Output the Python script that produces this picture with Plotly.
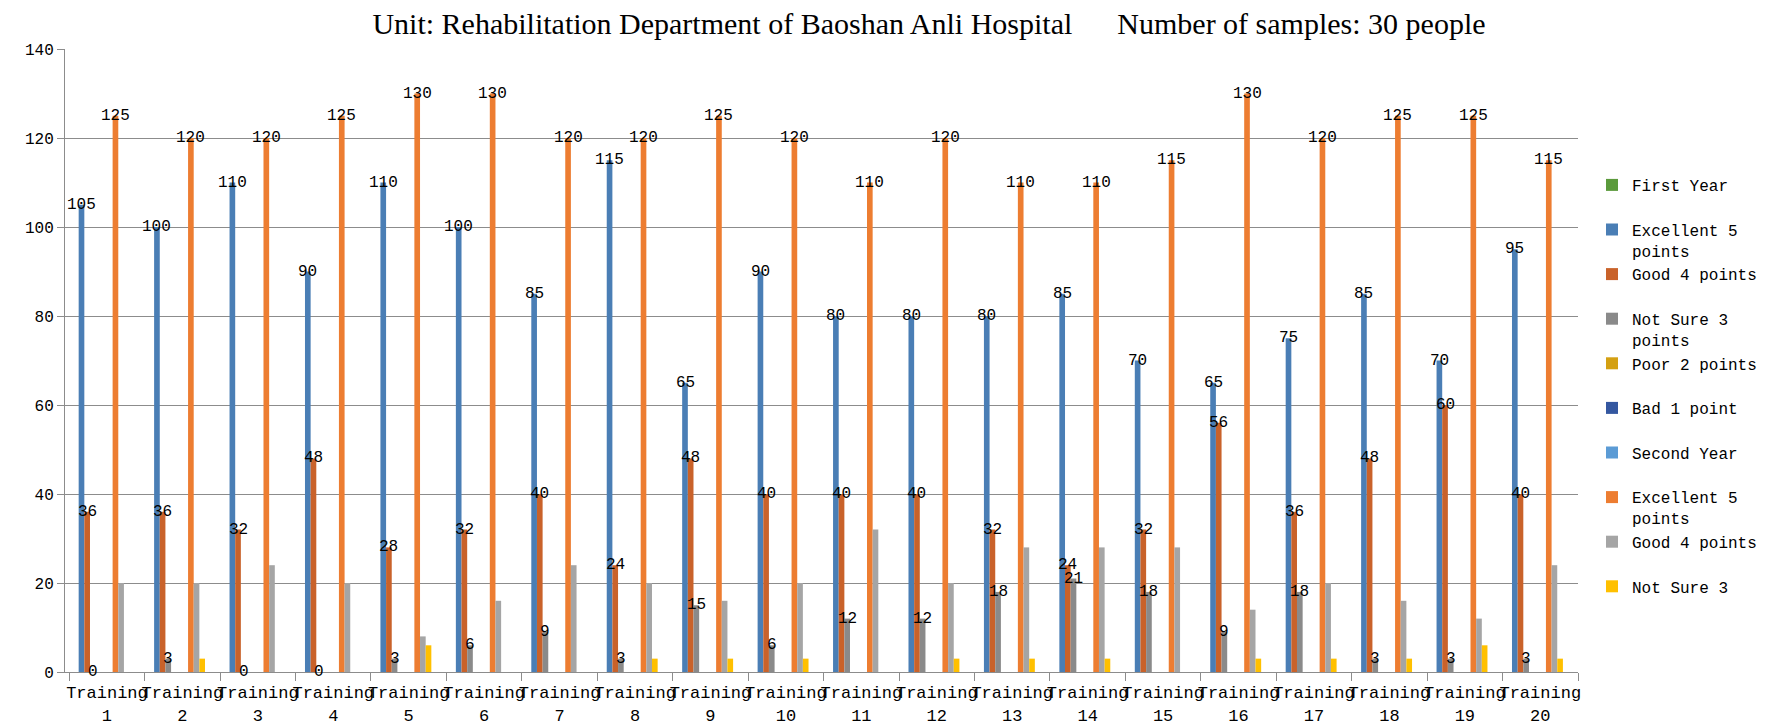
import plotly.graph_objects as go

categories = [f"Training {i}" for i in range(1, 21)]
tick_labels = [c.replace(" ", "<br>") for c in categories]

first_year = [0] * 20
fy_excellent = [105, 100, 110, 90, 110, 100, 85, 115, 65, 90, 80, 80, 80, 85, 70, 65, 75, 85, 70, 95]
fy_good = [36, 36, 32, 48, 28, 32, 40, 24, 48, 40, 40, 40, 32, 24, 32, 56, 36, 48, 60, 40]
fy_not_sure = [0, 3, 0, 0, 3, 6, 9, 3, 15, 6, 12, 12, 18, 21, 18, 9, 18, 3, 3, 3]
fy_poor = [0] * 20
fy_bad = [0] * 20
second_year = [0] * 20
sy_excellent = [125, 120, 120, 125, 130, 130, 120, 120, 125, 120, 110, 120, 110, 110, 115, 130, 120, 125, 125, 115]
sy_good = [20, 20, 24, 20, 8, 16, 24, 20, 16, 20, 32, 20, 28, 28, 28, 14, 20, 16, 12, 24]
sy_not_sure = [0, 3, 0, 0, 6, 0, 0, 3, 3, 3, 0, 3, 3, 3, 0, 3, 3, 3, 6, 3]
sy_poor = [0] * 20
sy_bad = [0] * 20

series = [
    ("First Year<br>&nbsp;", first_year, "#5B9A3C", True),
    ("Excellent 5<br>points", fy_excellent, "#4A7EB5", True),
    ("Good 4 points<br>&nbsp;", fy_good, "#C9622A", True),
    ("Not Sure 3<br>points", fy_not_sure, "#8A8A8A", True),
    ("Poor 2 points<br>&nbsp;", fy_poor, "#D4A012", True),
    ("Bad 1 point<br>&nbsp;", fy_bad, "#3457A0", True),
    ("Second Year<br>&nbsp;", second_year, "#5B9BD5", True),
    ("Excellent 5<br>points", sy_excellent, "#ED7D31", True),
    ("Good 4 points<br>&nbsp;", sy_good, "#A5A5A5", True),
    ("Not Sure 3<br>&nbsp;", sy_not_sure, "#FFC000", True),
    ("Poor 2 points", sy_poor, "#C9A24A", False),
    ("Bad 1 point", sy_bad, "#7F9FCF", False),
]
labelled = [1, 2, 3, 7]

BARGAP = 0.10
n = len(series)

fig = go.Figure()
for name, vals, color, show in series:
    fig.add_trace(go.Bar(
        x=categories, y=vals, name=name, marker_color=color,
        marker_line_width=0, showlegend=show,
    ))

slot = (1 - BARGAP) / n
annotations = []
for k in labelled:
    vals = series[k][1]
    off = -0.5 + BARGAP / 2 + (k + 0.5) * slot
    for i, v in enumerate(vals):
        annotations.append(dict(
            x=i + off, y=v, xref="x", yref="y", text=str(v), showarrow=False,
            xanchor="center", yanchor="middle",
            font=dict(family="Liberation Mono", size=16, color="#000000"),
        ))

axis_gray = "#8C8C8C"
fig.update_layout(
    width=1772, height=723,
    margin=dict(l=57, r=202, t=41, b=59),
    paper_bgcolor="white", plot_bgcolor="white",
    barmode="group", bargap=BARGAP, bargroupgap=0,
    title=dict(
        text="Unit: Rehabilitation Department of Baoshan Anli Hospital&nbsp;&nbsp;&nbsp;&nbsp;&nbsp;&nbsp;Number of samples: 30 people",
        x=921 / 1772, xanchor="center", xref="container",
        y=1 - 15 / 723, yanchor="middle", yref="container",
        font=dict(family="Liberation Serif", size=30, color="#000000"),
    ),
    legend=dict(
        x=(1584 - 57) / 1513, xanchor="left",
        y=(664 - 160) / 623, yanchor="top",
        valign="top", bgcolor="rgba(0,0,0,0)",
        font=dict(family="Liberation Mono", size=16, color="#000000"),
        tracegroupgap=0,
    ),
    annotations=annotations,
    xaxis=dict(
        type="category", tickmode="array", tickvals=categories, ticktext=tick_labels,
        tickangle=0, tickson="boundaries", ticks="outside", ticklen=8,
        ticklabelstandoff=5, automargin=False,
        tickcolor=axis_gray, showline=True, linecolor=axis_gray, linewidth=1,
        showgrid=False,
        tickfont=dict(family="Liberation Mono", size=17, color="#000000"),
    ),
    yaxis=dict(
        range=[0, 140], dtick=20, ticks="outside", ticklen=7, tickcolor=axis_gray,
        showline=True, linecolor=axis_gray, linewidth=1, automargin=False,
        showgrid=True, gridcolor=axis_gray, gridwidth=1, zeroline=False,
        tickfont=dict(family="Liberation Mono", size=16, color="#000000"),
    ),
)

fig.write_html("out.html")
